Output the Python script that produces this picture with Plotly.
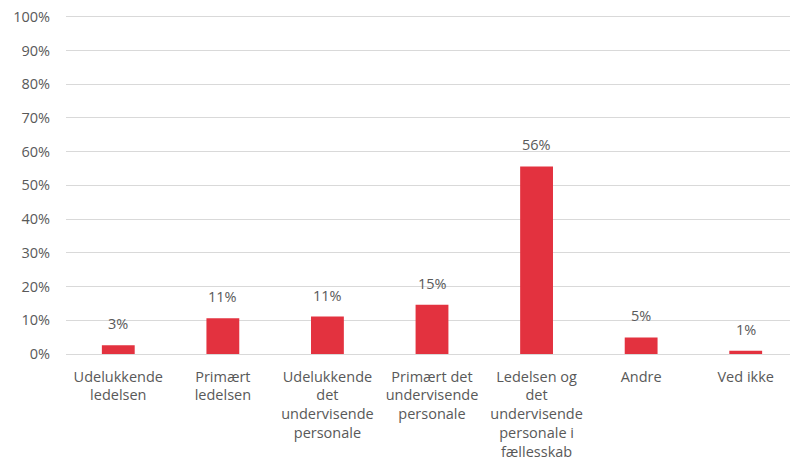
import plotly.graph_objects as go

categories = [
    "Udelukkende<br>ledelsen",
    "Primært<br>ledelsen",
    "Udelukkende<br>det<br>undervisende<br>personale",
    "Primært det<br>undervisende<br>personale",
    "Ledelsen og<br>det<br>undervisende<br>personale i<br>fællesskab",
    "Andre",
    "Ved ikke",
]
values = [0.026, 0.106, 0.111, 0.146, 0.556, 0.049, 0.010]
y_ticks = [0, 0.1, 0.2, 0.3, 0.4, 0.5, 0.6, 0.7, 0.8, 0.9, 1.0]

FONT = "Open Sans"
GREY = "#595959"
FS = 14.5

fig = go.Figure()
fig.add_trace(go.Bar(
    x=categories, y=values,
    marker=dict(color="#E3323F", line=dict(width=0)),
    hoverinfo="skip",
))

for c, v in zip(categories, values):
    fig.add_annotation(
        x=c, y=v, text=f"{v:.0%}", showarrow=False,
        yanchor="bottom", yshift=10,
        font=dict(family=FONT, size=FS, color=GREY),
    )

fig.update_layout(
    width=790, height=463,
    margin=dict(l=58, r=0, t=6, b=116.5),
    paper_bgcolor="white", plot_bgcolor="white",
    bargap=0.686,
    showlegend=False,
    font=dict(family=FONT, size=FS, color=GREY),
)
fig.update_xaxes(
    automargin=False,
    showgrid=False, showline=False, ticks="",
    tickfont=dict(family=FONT, size=FS, color=GREY),
    ticklabelstandoff=12,
)
fig.update_yaxes(
    automargin=False,
    range=[0, 1.008], tickvals=y_ticks, tickformat=".0%",
    showgrid=True, gridcolor="#D9D9D9", gridwidth=1,
    zeroline=True, zerolinecolor="#D9D9D9", zerolinewidth=1,
    showline=False, ticks="",
    tickfont=dict(family=FONT, size=FS, color=GREY),
    ticklabelstandoff=15,
    ticklabeloverflow="allow",
)

fig.write_html("out.html")
